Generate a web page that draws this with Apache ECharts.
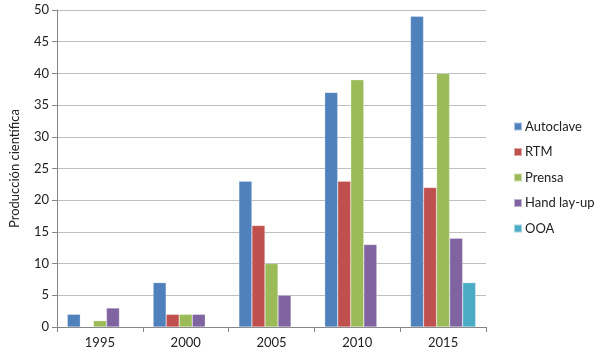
<!DOCTYPE html>
<html>
<head>
<meta charset="utf-8">
<script src="https://cdn.jsdelivr.net/npm/echarts@6/dist/echarts.min.js"></script>
<style>html,body{margin:0;padding:0;background:#fff}#c{width:600px;height:355px}</style>
</head>
<body>
<div id="c"></div>
<script>
const categories = ['1995', '2000', '2005', '2010', '2015'];
const autoclave = [2, 7, 23, 37, 49];
const rtm = [null, 2, 16, 23, 22];
const prensa = [1, 2, 10, 39, 40];
const handLayUp = [3, 2, 5, 13, 14];
const ooa = [null, null, null, null, 7];
const seriesNames = ['Autoclave', 'RTM', 'Prensa', 'Hand lay-up', 'OOA'];
const colors = ['#4F81BD', '#C0504D', '#9BBB59', '#8064A2', '#4BACC6'];
const yTicks = { min: 0, max: 50, interval: 5 };

const font = 'Lato, "Open Sans", sans-serif';
const data = [autoclave, rtm, prensa, handLayUp, ooa];
const chart = echarts.init(document.getElementById('c'));
chart.setOption({
  animation: false,
  color: colors,
  textStyle: { fontFamily: font },
  grid: { left: 57, right: 114, top: 10, bottom: 28 },
  legend: {
    orient: 'vertical', left: 508, top: 115,
    itemWidth: 8, itemHeight: 8, itemGap: 12.5,
    icon: 'rect',
    textStyle: { fontFamily: font, fontSize: 13, color: '#222', padding: [0, 0, 0, -2] },
    data: seriesNames
  },
  xAxis: {
    type: 'category', data: categories,
    axisLine: { lineStyle: { color: '#868686' } },
    axisTick: { show: true, length: 5, lineStyle: { color: '#868686' } },
    axisLabel: { fontSize: 13, color: '#222', margin: 9, fontFamily: font }
  },
  yAxis: {
    type: 'value', min: yTicks.min, max: yTicks.max, interval: yTicks.interval,
    name: 'Producción científica', nameLocation: 'middle', nameGap: 36,
    nameTextStyle: { fontSize: 13, color: '#222', fontFamily: font },
    axisLine: { show: true, lineStyle: { color: '#868686' } },
    axisTick: { show: true, length: 5, lineStyle: { color: '#868686' } },
    axisLabel: { fontSize: 13, color: '#222', margin: 8, fontFamily: font },
    splitLine: { lineStyle: { color: '#BFBFBF' } }
  },
  series: seriesNames.map((n, i) => ({
    name: n, type: 'bar', data: data[i],
    barGap: '0%', barCategoryGap: '24%',
    itemStyle: { borderColor: 'rgba(255,255,255,0.5)', borderWidth: 0.5 }
  }))
});
</script>
</body>
</html>
